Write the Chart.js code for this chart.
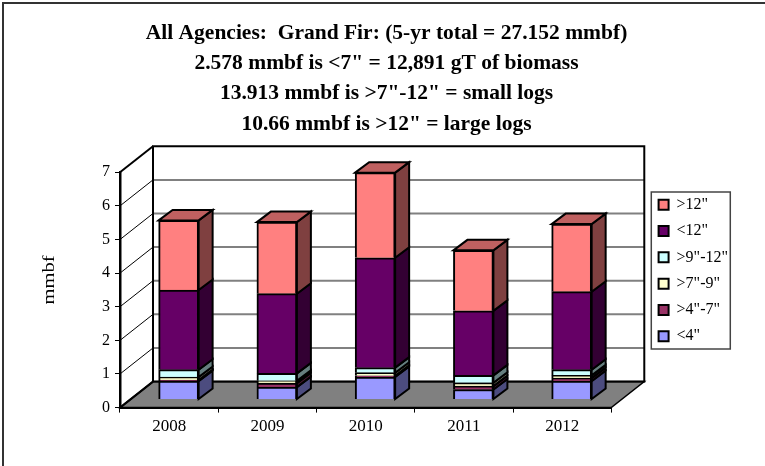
<!DOCTYPE html>
<html>
<head>
<meta charset="utf-8">
<script src="https://cdn.jsdelivr.net/npm/chart.js@4"></script>
<style>
    html, body { margin: 0; padding: 0; background: #fff; }
    canvas { display: block; }
</style>
</head>
<body>
<canvas id="chartAbete" width="765" height="466"></canvas>
<script>
// ================= DATI =================

const anni = ["2008", "2009", "2010", "2011", "2012"];

const meno4 = [0.55, 0.37, 0.67, 0.30, 0.55];
const da4a7 = [0.03, 0.12, 0.04, 0.10, 0.09];
const da7a9 = [0.09, 0.07, 0.09, 0.10, 0.08];
const da9a12 = [0.22, 0.22, 0.15, 0.22, 0.17];
const meno12 = [2.37, 2.37, 3.27, 1.92, 2.32];
const oltre12 = [2.07, 2.13, 2.53, 1.80, 2.01];

const etichette = ["<4\"", ">4\"-7\"", ">7\"-9\"", ">9\"-12\"", "<12\"", ">12\""];
const colori = ["#9999ff", "#993366", "#ffffcc", "#ccffff", "#660066", "#ff8080"];
const serie = [meno4, da4a7, da7a9, da9a12, meno12, oltre12];

const titolo = [
    "All Agencies:  Grand Fir: (5-yr total = 27.152 mmbf)",
    "2.578 mmbf is <7\" = 12,891 gT of biomass",
    "13.913 mmbf is >7\"-12\" = small logs",
    "10.66 mmbf is >12\" = large logs"
];

const titoloAsseY = "mmbf";

const FONT = "'Liberation Serif', serif";

// ================= FINTO 3D =================

const profX = 33, profY = 26;       // parete di fondo
const barDx = 9.5, barDy = 8;       // barre a meta' profondita'
const latoX = 14, latoY = 10.5;     // spessore delle barre

function scurisci(hex, f) {
    const n = parseInt(hex.slice(1), 16);
    return `rgb(${(n >> 16) * f | 0},${((n >> 8) & 255) * f | 0},${(n & 255) * f | 0})`;
}

function poligono(ctx, punti, fill, stroke, lw) {
    ctx.beginPath();
    punti.forEach((p, i) => i ? ctx.lineTo(p[0], p[1]) : ctx.moveTo(p[0], p[1]));
    ctx.closePath();
    if (fill) { ctx.fillStyle = fill; ctx.fill(); }
    if (stroke) { ctx.strokeStyle = stroke; ctx.lineWidth = lw; ctx.stroke(); }
}

const fondo3d = {
    id: "fondo3d",

    // legenda e titolo non stanno dove li mette il layout standard
    afterLayout(chart) {
        const l = chart.legend;
        const h = l.bottom - l.top;
        const w = l.right - l.left;
        l.left = chart.chartArea.right + 37;
        l.right = l.left + w;
        l.top = 270.5 - h / 2;
        l.bottom = l.top + h;

        chart.titleBlock.left = 0;
        chart.titleBlock.right = 773;
    },

    beforeDraw(chart) {
        const ctx = chart.ctx;
        const { left, right } = chart.chartArea;
        const y = chart.scales.y;
        const y0 = y.getPixelForValue(0);
        const y7 = y.getPixelForValue(7);

        ctx.save();

        // cornice
        ctx.strokeStyle = "#333";
        ctx.lineWidth = 2;
        ctx.beginPath();
        ctx.moveTo(3, 466);
        ctx.lineTo(3, 3);
        ctx.lineTo(765, 3);
        ctx.stroke();

        // pavimento
        poligono(ctx, [
            [left, y0], [left + profX, y0 - profY],
            [right + profX, y0 - profY], [right, y0]
        ], "#808080", "#000", 1.5);

        // griglia sul fondo e diagonali sulla parete sinistra
        y.ticks.forEach(t => {
            const py = y.getPixelForValue(t.value);
            if (t.value > 0 && t.value < 7) {
                ctx.strokeStyle = "#808080";
                ctx.lineWidth = 2;
                ctx.beginPath();
                ctx.moveTo(left + profX, py - profY);
                ctx.lineTo(right + profX, py - profY);
                ctx.stroke();
            }
            ctx.strokeStyle = "#000";
            ctx.lineWidth = t.value === 0 || t.value === 7 ? 2 : 1;
            ctx.beginPath();
            ctx.moveTo(left, py);
            ctx.lineTo(left + profX, py - profY);
            ctx.stroke();
        });

        // parete di fondo
        ctx.strokeStyle = "#000";
        ctx.lineWidth = 2;
        ctx.strokeRect(left + profX, y7 - profY, right - left, y0 - y7);

        // riquadro legenda
        const l = chart.legend;
        ctx.strokeStyle = "#444";
        ctx.lineWidth = 1.5;
        ctx.strokeRect(l.left + 3, 192, 79, 157);

        // titolo asse y, un po' piu' in alto del centro e allargato
        ctx.translate(50, 280);
        ctx.rotate(-Math.PI / 2);
        ctx.scale(1.28, 1);
        ctx.fillStyle = "#000";
        ctx.font = "16px " + FONT;
        ctx.textAlign = "center";
        ctx.textBaseline = "middle";
        ctx.fillText(titoloAsseY, 0, 0);

        ctx.restore();
    },

    beforeDatasetsDraw(chart) {
        const ctx = chart.ctx;
        ctx.save();
        ctx.translate(barDx, -barDy);

        chart.data.datasets.forEach((ds, i) => {
            chart.getDatasetMeta(i).data.forEach(b => {
                const r = b.x + b.width / 2;
                const l = b.x - b.width / 2;
                poligono(ctx, [
                    [r, b.y], [r + latoX, b.y - latoY],
                    [r + latoX, b.base - latoY], [r, b.base]
                ], scurisci(ds.backgroundColor, 0.5), "#000", 2);
                if (i === chart.data.datasets.length - 1) {
                    poligono(ctx, [
                        [l, b.y], [l + latoX, b.y - latoY],
                        [r + latoX, b.y - latoY], [r, b.y]
                    ], scurisci(ds.backgroundColor, 0.75), "#000", 2);
                }
            });
        });
    },

    afterDatasetsDraw(chart) {
        chart.ctx.restore();
    }
};

// ================= GRAFICO =================

new Chart(document.getElementById("chartAbete").getContext("2d"), {

    type: "bar",

    data: {
        labels: anni,
        datasets: serie.map((valori, i) => ({
            label: etichette[i],
            data: valori,
            backgroundColor: colori[i],
            borderColor: "#000",
            borderWidth: 2,
            barThickness: 40
        }))
    },

    options: {
        responsive: false,
        animation: false,
        layout: { padding: { left: 97, right: 64, top: 0, bottom: 25 } },
        plugins: {
            title: {
                display: true,
                text: titolo,
                color: "#000",
                font: { family: FONT, size: 21.5, weight: "bold", lineHeight: 1.41 },
                padding: { top: 18, bottom: 33 }
            },
            legend: {
                position: "right",
                reverse: true,
                labels: {
                    boxWidth: 10,
                    boxHeight: 10,
                    padding: 10.3,
                    color: "#000",
                    font: { family: FONT, size: 16 }
                }
            },
            tooltip: { enabled: false }
        },
        scales: {
            x: {
                stacked: true,
                grid: { offset: true, drawOnChartArea: false, color: "#000", tickLength: 5 },
                border: { color: "#000", width: 2 },
                ticks: { color: "#000", padding: 4, maxRotation: 0, font: { family: FONT, size: 17 } }
            },
            y: {
                stacked: true,
                min: 0,
                max: 7,
                grid: { drawOnChartArea: false, color: "#000", tickLength: 5 },
                border: { color: "#000", width: 2.5 },
                ticks: { stepSize: 1, color: "#000", padding: 5, font: { family: FONT, size: 16 } }
            }
        }
    },

    plugins: [fondo3d]

});
</script>
</body>
</html>
